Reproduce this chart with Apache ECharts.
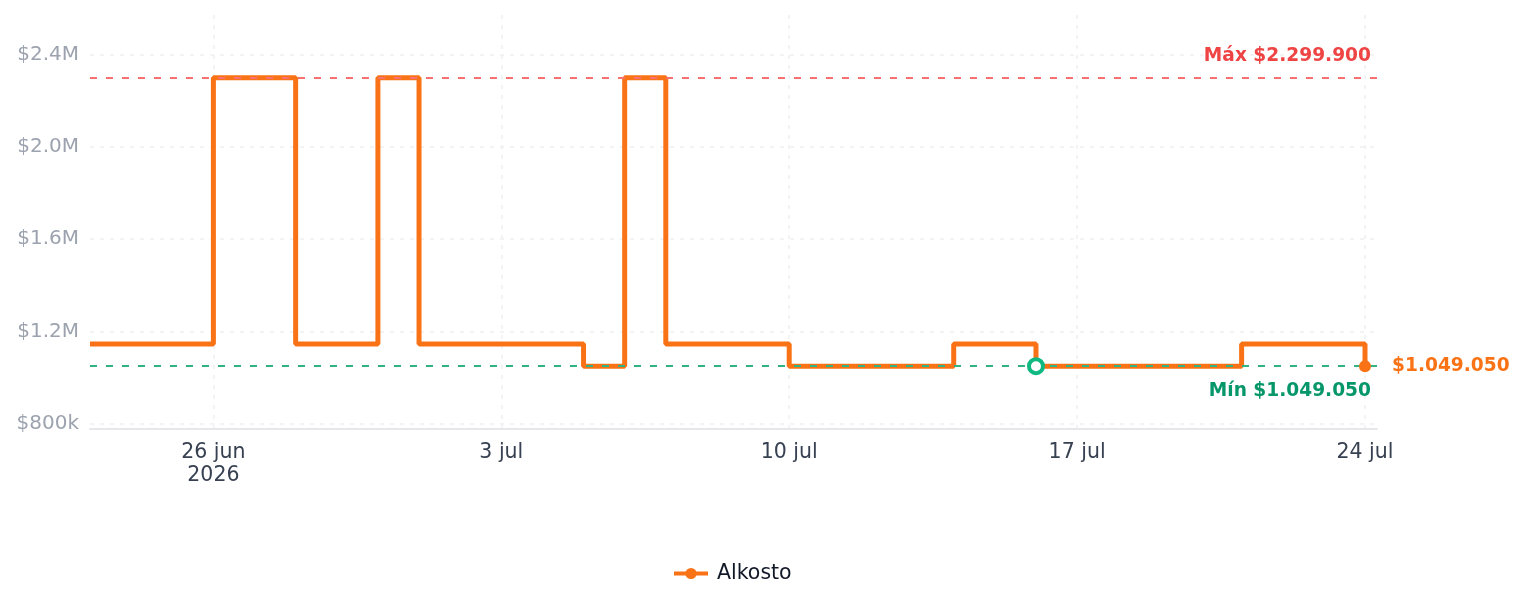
<!DOCTYPE html>
<html>
<head>
<meta charset="utf-8">
<script src="https://cdn.jsdelivr.net/npm/echarts@6/dist/echarts.min.js"></script>
<style>
  html, body { margin: 0; padding: 0; background: #fff; }
  #price-chart { width: 1524px; height: 607px; }
</style>
</head>
<body>
<div id="price-chart"></div>
<script>
// días (un punto por día)
const days = [
  "2026-06-23", "2026-06-24", "2026-06-25", "2026-06-26", "2026-06-27", "2026-06-28",
  "2026-06-29", "2026-06-30", "2026-07-01", "2026-07-02", "2026-07-03", "2026-07-04",
  "2026-07-05", "2026-07-06", "2026-07-07", "2026-07-08", "2026-07-09", "2026-07-10",
  "2026-07-11", "2026-07-12", "2026-07-13", "2026-07-14", "2026-07-15", "2026-07-16",
  "2026-07-17", "2026-07-18", "2026-07-19", "2026-07-20", "2026-07-21", "2026-07-22",
  "2026-07-23", "2026-07-24",
];
// precios Alkosto
const prices = [
  1144900, 1144900, 1144900, 2299900, 2299900, 1144900,
  1144900, 2299900, 1144900, 1144900, 1144900, 1144900,
  1049050, 2299900, 1144900, 1144900, 1144900, 1049050,
  1049050, 1049050, 1049050, 1144900, 1144900, 1049050,
  1049050, 1049050, 1049050, 1049050, 1144900, 1144900,
  1144900, 1049050,
];
// etiquetas de los ejes
const xTicks = ["2026-06-26", "2026-07-03", "2026-07-10", "2026-07-17", "2026-07-24"];
const yTicks = [800000, 1200000, 1600000, 2000000, 2400000];
const minMarkDay = "2026-07-16";
const seriesName = "Alkosto";
const months = ["ene", "feb", "mar", "abr", "may", "jun", "jul", "ago", "sep", "oct", "nov", "dic"];

const toTime = (s) => {
  const [y, m, d] = s.split("-").map(Number);
  return new Date(y, m - 1, d).getTime();
};
const money = (v) => "$" + Math.round(v).toString().replace(/\B(?=(\d{3})+(?!\d))/g, ".");

const points = days.map((d, i) => [toTime(d), prices[i]]);
const lastPoint = points[points.length - 1];
const minPrice = Math.min(...prices);
const gridLine = { color: "#f0f0f0", width: 1.5, type: [4, 6] };

const chart = echarts.init(document.getElementById("price-chart"));
const option = {
  animation: false,
  textStyle: { fontFamily: "DejaVu Sans" },
  grid: { left: 90, right: 147, top: 15, bottom: 178 },
  legend: {
    bottom: 18,
    left: 667,
    itemWidth: 34,
    itemHeight: 14,
    lineStyle: { width: 4 },
    textStyle: { color: "#111827", fontSize: 20.5, padding: [0, 0, 0, 4] },
  },
  xAxis: {
    type: "value",
    min: toTime(days[0]),
    max: toTime(days[days.length - 1]) + 7 * 3600 * 1000,
    axisLine: { lineStyle: { color: "#e5e7eb", width: 2 } },
    axisTick: { show: false, customValues: xTicks.map(toTime) },
    axisLabel: {
      customValues: xTicks.map(toTime),
      color: "#374151",
      fontSize: 20.5,
      lineHeight: 23,
      margin: 12,
      formatter: (v) => {
        const d = new Date(v);
        const txt = d.getDate() + " " + months[d.getMonth()];
        return v === toTime(xTicks[0]) ? txt + "\n" + d.getFullYear() : txt;
      },
    },
    splitLine: { show: true, lineStyle: gridLine },
  },
  yAxis: {
    type: "value",
    min: 776500,
    max: 2572500,
    axisLine: { show: false },
    axisTick: { show: false, customValues: yTicks },
    axisLabel: {
      color: "#9ca3af",
      fontSize: 20,
      margin: 11,
      padding: [4, 0, 0, 0],
      customValues: yTicks,
      formatter: (v) => (v >= 1e6 ? "$" + (v / 1e6).toFixed(1) + "M" : "$" + v / 1000 + "k"),
    },
    splitLine: { lineStyle: gridLine },
  },
  series: [
    {
      name: seriesName,
      type: "line",
      step: "end",
      data: points,
      symbol: "circle",
      symbolSize: 12,
      showSymbol: false,
      color: "#f97316",
      lineStyle: { width: 5, color: "#f97316" },
      markLine: {
        silent: true,
        symbol: "none",
        data: [
          {
            type: "max",
            lineStyle: { color: "#f87171", width: 2, type: [7, 9] },
            label: {
              position: "insideEndTop",
              distance: [6, 12],
              color: "#ef4444",
              fontWeight: "bold",
              fontSize: 18.6,
              formatter: (p) => "Máx " + money(p.value),
            },
          },
          {
            type: "min",
            lineStyle: { color: "#34b382", width: 2, type: [7, 9] },
            label: {
              position: "insideEndBottom",
              distance: [6, 15],
              color: "#059669",
              fontWeight: "bold",
              fontSize: 18.6,
              formatter: (p) => "Mín " + money(p.value),
            },
          },
        ],
      },
      markPoint: {
        silent: true,
        data: [
          {
            coord: [toTime(minMarkDay), minPrice],
            symbol: "circle",
            symbolSize: 14,
            itemStyle: { color: "#ffffff", borderColor: "#10b981", borderWidth: 4 },
            label: { show: false },
          },
          {
            coord: lastPoint,
            symbol: "circle",
            symbolSize: 12,
            itemStyle: { color: "#f97316" },
            label: {
              show: true,
              position: "right",
              distance: 21,
              color: "#f97316",
              fontWeight: "bold",
              fontSize: 18.6,
              formatter: () => money(lastPoint[1]),
            },
          },
        ],
      },
    },
  ],
};
chart.setOption(option);
window.onresize = () => chart.resize();
</script>
</body>
</html>
